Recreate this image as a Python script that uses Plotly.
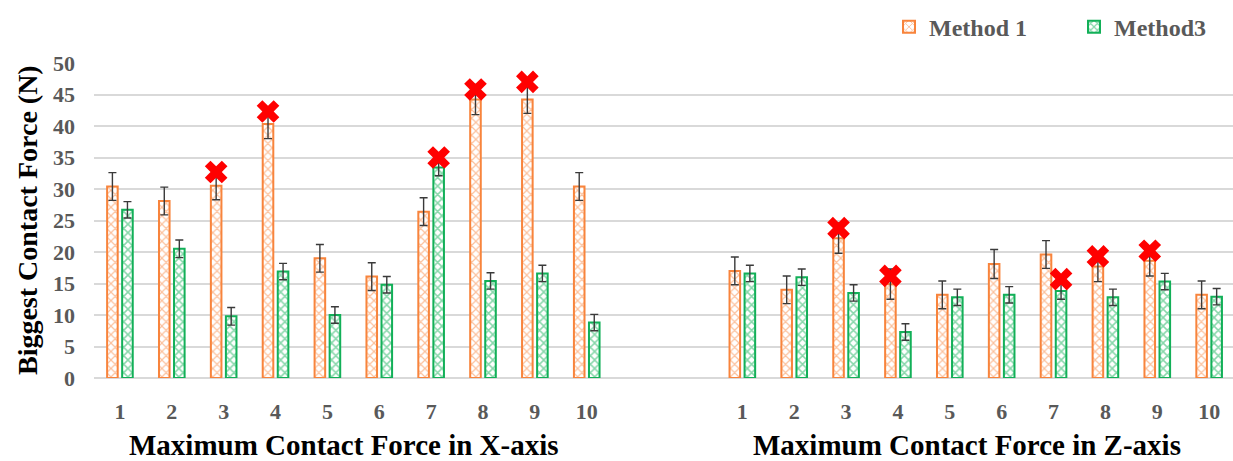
import plotly.graph_objects as go

# Trial numbers shown under each group
trials = ["1", "2", "3", "4", "5", "6", "7", "8", "9", "10"]
group_titles = ["Maximum Contact Force in X-axis", "Maximum Contact Force in Z-axis"]

# Biggest contact force (N), mean values
method1_x = [30.4, 28.1, 30.5, 40.3, 19.0, 16.1, 26.4, 44.2, 44.2, 30.4]
method3_x = [26.7, 20.5, 9.8, 16.9, 10.0, 14.8, 33.4, 15.4, 16.6, 8.8]
method1_z = [17.0, 14.0, 22.2, 14.9, 13.2, 18.1, 19.6, 17.7, 18.6, 13.2]
method3_z = [16.6, 16.0, 13.5, 7.3, 12.8, 13.2, 13.8, 12.8, 15.3, 12.9]

# Standard deviations
method1_x_err = [2.2, 2.2, 2.2, 2.3, 2.2, 2.2, 2.2, 2.4, 2.2, 2.2]
method3_x_err = [1.3, 1.4, 1.4, 1.3, 1.3, 1.3, 1.3, 1.3, 1.3, 1.3]
method1_z_err = [2.2, 2.2, 2.4, 2.4, 2.2, 2.3, 2.2, 2.4, 2.4, 2.2]
method3_z_err = [1.3, 1.3, 1.3, 1.3, 1.3, 1.3, 1.3, 1.3, 1.3, 1.3]

# Failed trials flagged with a red cross: (group, trial index, method, height)
fail_group = ["X", "X", "X", "X", "X", "Z", "Z", "Z", "Z", "Z"]
fail_trial = [2, 3, 6, 7, 8, 2, 3, 6, 7, 8]
fail_method = [1, 1, 3, 1, 1, 1, 1, 3, 1, 1]
fail_value = [32.7, 42.3, 35.0, 45.8, 47.0, 23.8, 16.2, 15.7, 19.3, 20.2]

# Category slots: X group, two empty slots, Z group
GAP = 2
pos_x = list(range(len(trials)))
pos_z = [len(trials) + GAP + i for i in range(len(trials))]
positions = pos_x + pos_z

ORANGE = "#F8843C"
GREEN = "#12B058"
FONT = "Liberation Serif"
TICK_COLOR = "#595959"

BAR_W = 0.204
OFF = {1: -0.247, 3: 0.043}

fig = go.Figure()

series = [
    ("Method 1", 1, method1_x + method1_z, method1_x_err + method1_z_err, ORANGE, 0.36),
    ("Method3", 3, method3_x + method3_z, method3_x_err + method3_z_err, GREEN, 0.45),
]
for name, m, vals, errs, col, solid in series:
    fig.add_trace(go.Bar(
        name=name,
        x=positions,
        y=vals,
        width=BAR_W,
        offset=OFF[m],
        marker=dict(
            color="white",
            line=dict(color=col, width=2),
            pattern=dict(shape="x", fgcolor=col, bgcolor="white", size=6, solidity=solid),
        ),
        error_y=dict(type="data", array=errs, color="#3a3a3a", thickness=1.4, width=4),
    ))

mx = []
for g, t, m in zip(fail_group, fail_trial, fail_method):
    base = pos_x[t] if g == "X" else pos_z[t]
    mx.append(base + OFF[m] + BAR_W / 2)
fig.add_trace(go.Scatter(
    x=mx, y=fail_value, mode="markers", showlegend=False,
    marker=dict(symbol="x", size=20, color="#FF0000", line=dict(width=0)),
    cliponaxis=False,
))

plot_left, plot_right = 93.5, 1233
fig.update_layout(
    width=1233, height=461,
    margin=dict(l=plot_left, r=1233 - plot_right, t=63, b=83, autoexpand=False),
    paper_bgcolor="white", plot_bgcolor="white",
    barmode="overlay",
    font=dict(family=FONT),
    showlegend=True,
    legend=dict(
        orientation="h", x=0.698, xanchor="left", y=1.185, yanchor="top",
        font=dict(family=FONT, size=24, color=TICK_COLOR, weight="bold"),
        entrywidth=140, entrywidthmode="pixels",
        traceorder="normal", itemsizing="constant",
        bgcolor="rgba(0,0,0,0)",
    ),
    xaxis=dict(
        range=[-0.5, 21.46],
        tickmode="array", tickvals=positions, ticktext=trials + trials,
        tickfont=dict(family=FONT, size=22, color=TICK_COLOR, weight="bold"),
        showgrid=False, zeroline=False, showline=False, ticks="",
        ticklabelstandoff=18,
    ),
    yaxis=dict(
        range=[0, 50], dtick=5, tick0=0,
        tickfont=dict(family=FONT, size=22, color=TICK_COLOR, weight="bold"),
        showgrid=True, gridcolor="#D9D9D9", gridwidth=2,
        zeroline=True, zerolinecolor="#D9D9D9", zerolinewidth=2,
        showline=False, ticks="", ticklabelstandoff=18,
    ),
)

# Group titles under the tick labels
for grp, title in zip([pos_x, pos_z], group_titles):
    center = (grp[0] + grp[-1]) / 2
    fig.add_annotation(
        x=center, y=0, xref="x", yref="paper", yanchor="middle",
        yshift=-67, xshift=-9, showarrow=False, text=title,
        font=dict(family=FONT, size=29, color="black", weight="bold"),
    )

# Vertical axis title
fig.add_annotation(
    x=(27 - plot_left) / (plot_right - plot_left), y=0.5,
    xref="paper", yref="paper", xanchor="center", yanchor="middle",
    showarrow=False, textangle=-90, text="Biggest Contact Force (N)",
    font=dict(family=FONT, size=28, color="black", weight="bold"),
)

fig.write_html("out.html")
